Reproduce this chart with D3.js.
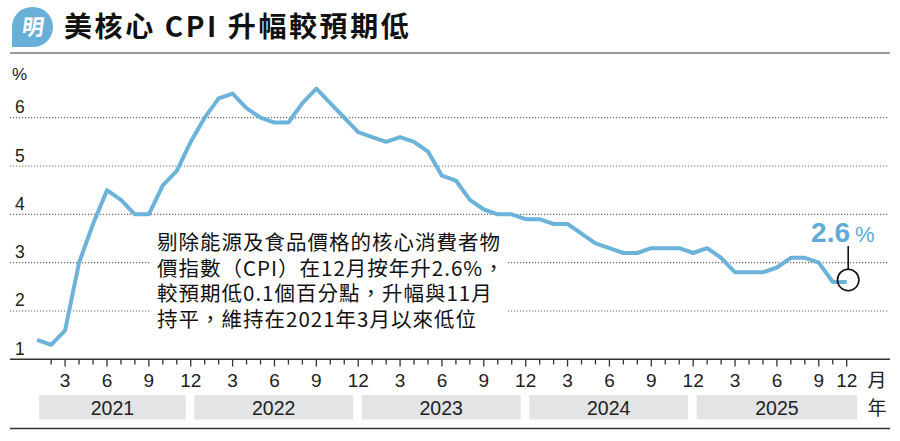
<!DOCTYPE html>
<html>
<head>
<meta charset="utf-8">
<script src="https://cdn.jsdelivr.net/npm/d3@7"></script>
<style>
  body { margin: 0; background: #fff; }
  svg { display: block; }
</style>
</head>
<body>
<svg class="svg-cpi" width="900" height="441"></svg>
<script>
// 美國核心 CPI 按年變化 (%)，2025 年 10 月無數據
const years = [2021, 2022, 2023, 2024, 2025]
const cpi2021 = [1.4, 1.3, 1.6, 3.0, 3.8, 4.5, 4.3, 4.0, 4.0, 4.6, 4.9, 5.5]
const cpi2022 = [6.0, 6.4, 6.5, 6.2, 6.0, 5.9, 5.9, 6.3, 6.6, 6.3, 6.0, 5.7]
const cpi2023 = [5.6, 5.5, 5.6, 5.5, 5.3, 4.8, 4.7, 4.3, 4.1, 4.0, 4.0, 3.9]
const cpi2024 = [3.9, 3.8, 3.8, 3.6, 3.4, 3.3, 3.2, 3.2, 3.3, 3.3, 3.3, 3.2]
const cpi2025 = [3.3, 3.1, 2.8, 2.8, 2.8, 2.9, 3.1, 3.1, 3.0, null, 2.6, 2.6]
const yTicks = [1, 2, 3, 4, 5, 6]
const titleText = "美核心 CPI 升幅較預期低"
const noteLines = [
  "剔除能源及食品價格的核心消費者物",
  "價指數（CPI）在12月按年升2.6%，",
  "較預期低0.1個百分點，升幅與11月",
  "持平，維持在2021年3月以來低位"
]
const lastLabel = "2.6"

const byYear = [cpi2021, cpi2022, cpi2023, cpi2024, cpi2025]
const data = []
years.forEach((yr, i) => {
  byYear[i].forEach((v, m) => {
    if (v !== null) data.push({ key: yr + "-" + (m + 1), year: yr, month: m + 1, value: v })
  })
})

const cjk = "'Noto Sans CJK TC', 'Noto Sans CJK SC', sans-serif"
const num = "'Liberation Sans', 'Noto Sans CJK TC', sans-serif"
const lineColor = "#6cb3da"

const svg = d3.select(".svg-cpi")

// 標題
svg.append("path")
    .attr("d", "M12,47 L12,27 A20,20 0 0 1 32,7 L33,7 A20,20 0 0 1 53,27 A20,20 0 0 1 33,47 Z")
    .attr("fill", "#6aafd8")
svg.append("text")
    .attr("x", 33).attr("y", 35)
    .attr("text-anchor", "middle")
    .attr("transform", "skewX(-8) translate(4,0)")
    .style("font", `bold 22px ${cjk}`)
    .attr("fill", "#fff")
    .text("明")
svg.append("text")
    .attr("x", 64).attr("y", 37)
    .style("font", `bold 28px ${cjk}`)
    .style("letter-spacing", "2.6px")
    .attr("fill", "#111")
    .text(titleText)
svg.append("line")
    .attr("x1", 10).attr("x2", 890).attr("y1", 53).attr("y2", 53)
    .attr("stroke", "#9a9a9a").attr("stroke-width", 2)

// 比例尺
const x = d3.scalePoint()
    .domain(data.map(d => d.key))
    .range([37.2, 846.7])
const y = d3.scaleLinear()
    .domain([1, 6])
    .range([359.3, 117.7])

// 網格線
svg.append("g")
  .selectAll("line")
  .data(yTicks.slice(1))
  .join("line")
    .attr("x1", 10).attr("x2", 888)
    .attr("y1", d => y(d)).attr("y2", d => y(d))
    .attr("stroke", "#666")
    .attr("stroke-width", 1.2)
    .attr("stroke-dasharray", "1.2,1.8")

svg.append("g")
  .selectAll("text")
  .data(yTicks)
  .join("text")
    .attr("x", 15)
    .attr("y", d => y(d) - 4.5)
    .style("font", `17.5px ${num}`)
    .attr("fill", "#222")
    .text(d => d)
svg.append("text")
    .attr("x", 12).attr("y", 80)
    .style("font", `17px ${num}`)
    .attr("fill", "#222")
    .text("%")

// 說明文字
svg.append("rect")
    .attr("x", 150).attr("y", 226)
    .attr("width", 358).attr("height", 110)
    .attr("fill", "#fff")
svg.append("g")
  .selectAll("text")
  .data(noteLines)
  .join("text")
    .attr("x", 157)
    .attr("y", (d, i) => 250 + i * 25.5)
    .style("font", `20.5px ${cjk}`)
    .style("letter-spacing", "1px")
    .attr("fill", "#111")
    .text(d => d)

// 曲線
const line = d3.line()
    .x(d => x(d.key))
    .y(d => y(d.value))
svg.append("path")
    .datum(data)
    .attr("fill", "none")
    .attr("stroke", lineColor)
    .attr("stroke-width", 4)
    .attr("stroke-linejoin", "round")
    .attr("d", line)

// 最新一點
const last = data[data.length - 1]
svg.append("circle")
    .attr("cx", x(last.key) + 1.5).attr("cy", y(last.value) - 2)
    .attr("r", 10.7)
    .attr("fill", "none")
    .attr("stroke", "#111")
    .attr("stroke-width", 1.6)
svg.append("line")
    .attr("x1", x(last.key) + 1.5).attr("x2", x(last.key) + 1.5)
    .attr("y1", 246).attr("y2", y(last.value) - 12.7)
    .attr("stroke", "#111")
    .attr("stroke-width", 1.6)
svg.append("text")
    .attr("x", 850).attr("y", 242)
    .attr("text-anchor", "end")
    .style("font", `bold 28px ${num}`)
    .attr("fill", "#5ea9d6")
    .text(lastLabel)
svg.append("text")
    .attr("x", 855).attr("y", 242)
    .style("font", `22px ${num}`)
    .attr("fill", "#5ea9d6")
    .text("%")

// X 軸
svg.append("line")
    .attr("x1", 10).attr("x2", 890).attr("y1", 359.3).attr("y2", 359.3)
    .attr("stroke", "#333").attr("stroke-width", 1.5)

svg.append("g")
  .selectAll("line")
  .data(data.slice(1))
  .join("line")
    .attr("x1", d => x(d.key)).attr("x2", d => x(d.key))
    .attr("y1", 359.3)
    .attr("y2", d => d.month % 3 === 0 ? 366.5 : 364.5)
    .attr("stroke", "#333")
    .attr("stroke-width", 1.3)

svg.append("g")
  .selectAll("text")
  .data(data.filter(d => d.month % 3 === 0))
  .join("text")
    .attr("x", d => x(d.key))
    .attr("y", 387)
    .attr("text-anchor", "middle")
    .style("font", `19px ${num}`)
    .attr("fill", "#222")
    .text(d => d.month)

svg.append("text")
    .attr("x", 877).attr("y", 387)
    .attr("text-anchor", "middle")
    .style("font", `19px ${cjk}`)
    .attr("fill", "#222")
    .text("月")

// 年份色帶
const bands = years.map((yr, i) => {
  const dec = data.filter(d => d.year === yr && d.month === 12)[0]
  const prevDec = data.filter(d => d.year === yr - 1 && d.month === 12)[0]
  const x0 = prevDec ? x(prevDec.key) + 3.5 : x(data[0].key) + 2
  const x1 = i === years.length - 1 ? x(dec.key) + 10.5 : x(dec.key) - 5
  return { year: yr, x0, x1 }
})
const band = svg.append("g")
  .selectAll("g")
  .data(bands)
  .join("g")
band.append("rect")
    .attr("x", d => d.x0).attr("width", d => d.x1 - d.x0)
    .attr("y", 395).attr("height", 24.5)
    .attr("fill", "#e3e4e5")
band.append("text")
    .attr("x", d => (d.x0 + d.x1) / 2)
    .attr("y", 414.5)
    .attr("text-anchor", "middle")
    .style("font", `19.5px ${num}`)
    .attr("fill", "#222")
    .text(d => d.year)

svg.append("text")
    .attr("x", 877).attr("y", 415)
    .attr("text-anchor", "middle")
    .style("font", `19px ${cjk}`)
    .attr("fill", "#222")
    .text("年")

svg.append("line")
    .attr("x1", 10).attr("x2", 890).attr("y1", 428.5).attr("y2", 428.5)
    .attr("stroke", "#333").attr("stroke-width", 1.5)
</script>
</body>
</html>
